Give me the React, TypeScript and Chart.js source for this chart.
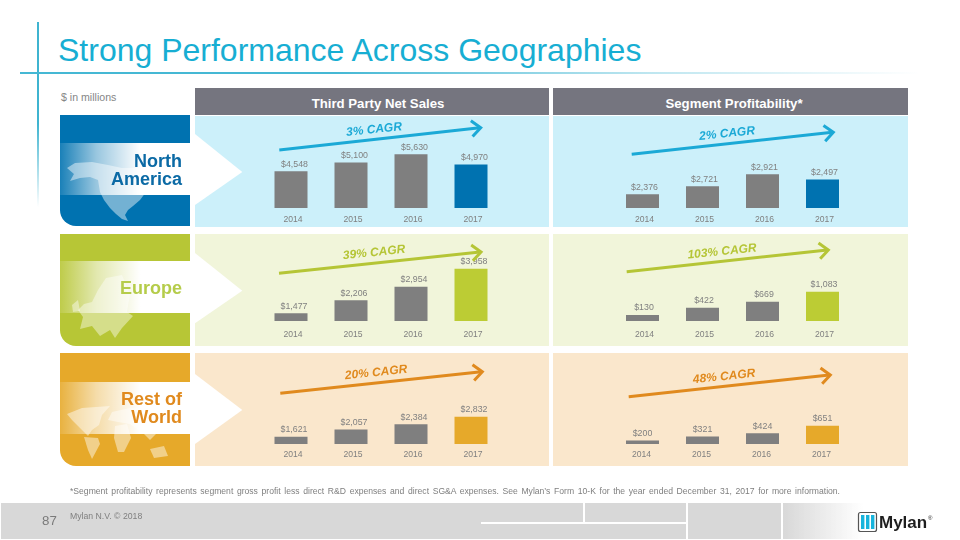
import React, { useEffect, useRef } from "react";
import { Chart, registerables } from "chart.js";

Chart.register(...registerables);

const FONT = '"Liberation Sans", Arial, sans-serif';

const years = ["2014", "2015", "2016", "2017"];
const naSales = [4548, 5100, 5630, 4970];
const naProfit = [2376, 2721, 2921, 2497];
// In the reference the North America profit bars do not follow their printed labels; these are the heights as drawn.
const naProfitDrawn = [2376, 2594, 2921, 2777];
const euSales = [1477, 2206, 2954, 3958];
const euProfit = [130, 422, 669, 1083];
const rowSales = [1621, 2057, 2384, 2832];
const rowProfit = [200, 321, 424, 651];

const BLUE = "#0072b0";
const GREEN = "#bccc34";
const GOLD = "#e6a92a";
const GREY = "#7f7f7f";

const valueLabels = {
  id: "valueLabels",
  afterDatasetsDraw(chart: any) {
    const o = chart.options.plugins.valueLabels;
    const { ctx } = chart;
    const els = chart.getDatasetMeta(0).data;
    ctx.save();
    ctx.font = `8.8px ${FONT}`;
    ctx.fillStyle = "#808080";
    ctx.textAlign = "center";
    ctx.textBaseline = "middle";
    els.forEach((el: any, i: number) => {
      ctx.fillText("$" + o.texts[i].toLocaleString("en-US"), el.x + o.dx, el.y - 7);
    });
    ctx.restore();
  },
};

type Panel = {
  left: number; width: number; top: number; base: number; padL: number; padR: number;
  drawn: number[]; printed: number[]; min: number; max: number; accent: string;
  labelDx: number; tickDx: number; tickGap: number;
};

const SALES = { left: 195, width: 354, padL: 66, padR: 48 };
const PROFIT = { left: 553, width: 355, padL: 59.5, padR: 55.5 };

const panels: Panel[] = [
  { ...SALES, top: 116, base: 207.7, drawn: naSales, printed: naSales, min: 2178, max: 8094, accent: BLUE, labelDx: 3.5, tickDx: 2, tickGap: 6 },
  { ...PROFIT, top: 116, base: 207.7, drawn: naProfitDrawn, printed: naProfit, min: 2003, max: 4502, accent: BLUE, labelDx: 2, tickDx: 2, tickGap: 6 },
  { ...SALES, top: 234, base: 321, drawn: euSales, printed: euSales, min: 1049, max: 5882, accent: GREEN, labelDx: 3, tickDx: 2, tickGap: 8.5 },
  { ...PROFIT, top: 234, base: 321, drawn: euProfit, printed: euProfit, min: -115, max: 3436, accent: GREEN, labelDx: 1.5, tickDx: 2, tickGap: 8.5 },
  { ...SALES, top: 353, base: 444.3, drawn: rowSales, printed: rowSales, min: 1179, max: 6712, accent: GOLD, labelDx: 3, tickDx: 2, tickGap: 5.5 },
  { ...PROFIT, top: 353, base: 444.3, drawn: rowProfit, printed: rowProfit, min: 90, max: 2891, accent: GOLD, labelDx: 0, tickDx: -1, tickGap: 5.5 },
];

function BarPanel({ p }: { p: Panel }) {
  const ref = useRef<HTMLCanvasElement>(null);
  const AXIS_H = 20;
  const h = Math.round(p.base - p.top + AXIS_H);
  useEffect(() => {
    const chart = new Chart(ref.current!, {
      type: "bar",
      data: {
        labels: years,
        datasets: [{
          data: p.drawn,
          base: p.min,
          backgroundColor: [GREY, GREY, GREY, p.accent],
          barPercentage: 0.55,
          categoryPercentage: 1,
        }],
      },
      options: {
        animation: false,
        responsive: false,
        devicePixelRatio: 1,
        layout: { padding: { left: p.padL, right: p.padR, top: 0, bottom: 0 } },
        plugins: {
          legend: { display: false },
          title: { display: false },
          tooltip: { enabled: false },
          valueLabels: { texts: p.printed, dx: p.labelDx },
        },
        scales: {
          x: {
            grid: { display: false, drawTicks: false, tickLength: 0 },
            border: { display: false },
            ticks: { color: "#808080", font: { family: FONT, size: 8.6 }, padding: p.tickGap, labelOffset: p.tickDx, maxRotation: 0 },
            afterFit: (s: any) => { s.height = AXIS_H; },
          },
          y: { display: false, min: p.min, max: p.max },
        },
      } as any,
      plugins: [valueLabels as any],
    });
    return () => chart.destroy();
  }, []);
  return (
    <canvas ref={ref} width={p.width} height={h}
      style={{ position: "absolute", left: p.left, top: p.top, width: p.width, height: h }} />
  );
}

const Box = (s: React.CSSProperties) => <div style={{ position: "absolute", ...s }} />;

function T({ x, y, text, size, color, bold, italic, align = "left", rotate = 0 }: any) {
  const tx = align === "center" ? "-50%" : align === "right" ? "-100%" : "0";
  return (
    <div style={{
      position: "absolute", left: x, top: y, whiteSpace: "nowrap", fontFamily: FONT, fontSize: size, color,
      fontWeight: bold ? 700 : 400, fontStyle: italic ? "italic" : "normal", lineHeight: 1,
      transform: `translate(${tx},-50%) rotate(${rotate}deg)`,
    }}>{text}</div>
  );
}

function Arrow({ x1, y1, x2, y2, color }: any) {
  const a = Math.atan2(y2 - y1, x2 - x1);
  const len = 12;
  const spread = 0.72;
  const p1 = [x2 - len * Math.cos(a - spread), y2 - len * Math.sin(a - spread)];
  const p2 = [x2 - len * Math.cos(a + spread), y2 - len * Math.sin(a + spread)];
  return (
    <g stroke={color} strokeWidth={3} fill="none">
      <line x1={x1} y1={y1} x2={x2 - 1} y2={y2} />
      <polyline points={`${p1[0]},${p1[1]} ${x2},${y2} ${p2[0]},${p2[1]}`} />
    </g>
  );
}

const CB = "#1ba9d6";
const CG = "#b5c536";
const CO = "#e08a1e";

const arrows = [
  { x1: 279.3, y1: 150, x2: 480.7, y2: 127.7, color: CB },
  { x1: 631.7, y1: 154.3, x2: 833.3, y2: 132.3, color: CB },
  { x1: 279, y1: 273.3, x2: 481, y2: 252, color: CG },
  { x1: 626.7, y1: 271.7, x2: 828.3, y2: 250, color: CG },
  { x1: 280.3, y1: 393.3, x2: 482.3, y2: 371.7, color: CO },
  { x1: 628.7, y1: 396.7, x2: 830.3, y2: 375, color: CO },
];

const cagr = [
  { text: "3% CAGR", x: 374.3, y: 129.3, color: CB },
  { text: "2% CAGR", x: 726.7, y: 133.3, color: CB },
  { text: "39% CAGR", x: 374, y: 251.7, color: CG },
  { text: "103% CAGR", x: 722.3, y: 250.7, color: CG },
  { text: "20% CAGR", x: 375.7, y: 372.3, color: CO },
  { text: "48% CAGR", x: 723.7, y: 376, color: CO },
];

const tiles = [
  { top: 115.3, h: 111, bandT: 143, bandB: 195, color: BLUE, panel: "#ccf0fa", ptop: 115.5, ph: 111.5, a: [134, 172, 205] },
  { top: 233.5, h: 112, bandT: 261, bandB: 313, color: "#b7c636", panel: "#f1f5da", ptop: 234, ph: 111.5, a: [253, 290.7, 323.3] },
  { top: 353, h: 112.5, bandT: 382, bandB: 434, color: "#e6a92a", panel: "#fae7cc", ptop: 353, ph: 113, a: [374, 410, 444] },
];

const mapNA = "67,168 75,163 92,162 108,165 122,168 138,168 150,172 148,178 143,186 146,192 140,200 133,206 128,210 125,215 128,221 122,219 116,214 110,208 104,200 100,192 98,180 90,177 80,178 70,181 74,174";
const mapEU = ["122,275 106,278 98,290 92,302 84,304 78,310 83,317 80,329 92,326 100,336 110,330 115,338 122,328 133,316 127,312 130,294", "72,305 78,300 80,311 73,312"];
const mapRW = [
  "67,414 82,408 110,406 102,415 99,425 92,430 88,436 80,428 72,420",
  "84,437 98,438 100,444 92,459 88,450",
  "115,426 127,424 131,438 124,452 118,452 114,438",
  "108,420 112,412 130,408 150,408 170,416 166,426 158,432 150,440 142,432 130,424 118,422",
  "150,449 164,446 168,456 154,458",
];

export default function App() {
  return (
    <div style={{ position: "fixed", left: 0, top: 0, width: 960, height: 540, background: "#fff", overflow: "hidden", fontFamily: FONT }}>
      <T x={58} y={50} text="Strong Performance Across Geographies" size={32} color="#17aed3" />
      <Box left={37} top={22} width={1.5} height={185} background="linear-gradient(to bottom,#3fb4d0 0%,#3fb4d0 55%,rgba(63,180,208,0) 100%)" />
      <Box left={20} top={72} width={900} height={1.5} background="linear-gradient(to right,#45b8d4 0%,#45b8d4 35%,rgba(69,184,212,0.35) 70%,rgba(69,184,212,0) 100%)" />
      <T x={61} y={97} text="$ in millions" size={10.6} color="#868686" />

      <Box left={195} top={88.3} width={354} height={27} background="#75757f" />
      <Box left={553} top={88.3} width={355} height={27} background="#75757f" />
      <T x={378} y={104} text="Third Party Net Sales" size={13.2} color="#fff" bold align="center" />
      <T x={734} y={104} text="Segment Profitability*" size={13.2} color="#fff" bold align="center" />

      {tiles.map((t, i) => (
        <React.Fragment key={i}>
          <Box left={60} top={t.top} width={129.5} height={t.h} background={t.color} borderBottomLeftRadius={16} />
          <Box left={60} top={t.bandT} width={129.5} height={t.bandB - t.bandT}
            background="linear-gradient(to right,rgba(255,255,255,0.1) 0%,rgba(255,255,255,0.6) 28%,rgba(255,255,255,1) 62%,#fff 100%)" />
          <Box left={195} top={t.ptop} width={354} height={t.ph} background={t.panel} />
          <Box left={553} top={t.ptop} width={355} height={t.ph} background={t.panel} />
        </React.Fragment>
      ))}

      <svg width={960} height={540} style={{ position: "absolute", left: 0, top: 0 }}>
        {tiles.map((t, i) => (
          <polygon key={i} fill="#fff" points={`195,${t.a[0]} 242.3,${t.a[1]} 195,${t.a[2]}`} />
        ))}
        <polygon points={mapNA} fill="rgba(255,255,255,0.45)" />
        {mapEU.map((m, i) => <polygon key={i} points={m} fill="rgba(255,255,255,0.42)" />)}
        {mapRW.map((m, i) => <polygon key={i} points={m} fill="rgba(255,255,255,0.45)" />)}
      </svg>

      {panels.map((p, i) => <BarPanel key={i} p={p} />)}

      <svg width={960} height={540} style={{ position: "absolute", left: 0, top: 0 }}>
        {arrows.map((a, i) => <Arrow key={i} {...a} />)}
      </svg>
      {cagr.map((c, i) => (
        <T key={i} x={c.x} y={c.y} text={c.text} size={12} color={c.color} bold italic align="center" rotate={-6} />
      ))}

      <T x={182} y={161} text="North" size={18} color="#0b6aa5" bold align="right" />
      <T x={182} y={179} text="America" size={18} color="#0b6aa5" bold align="right" />
      <T x={182} y={287.5} text="Europe" size={18} color="#b5cc4a" bold align="right" />
      <T x={182} y={399} text="Rest of" size={18} color={CO} bold align="right" />
      <T x={182} y={417} text="World" size={18} color={CO} bold align="right" />

      <div style={{
        position: "absolute", left: 70, top: 491, width: 770, transform: "translateY(-50%)", fontFamily: FONT, fontSize: 8.6,
        color: "#7f7f7f", lineHeight: 1, textAlign: "justify", textAlignLast: "justify", whiteSpace: "normal",
      }}>*Segment profitability represents segment gross profit less direct R&amp;D expenses and direct SG&amp;A expenses. See Mylan’s Form 10-K for the year ended December 31, 2017 for more information.</div>

      <Box left={1} top={502.7} width={480} height={36.5} background="#d8d8d8" />
      <Box left={481} top={502.7} width={102} height={19.5} background="#d8d8d8" />
      <Box left={585} top={502.7} width={101} height={19.5} background="#d8d8d8" />
      <Box left={481} top={524} width={205} height={15.2} background="#d8d8d8" />
      <Box left={688} top={502.7} width={92.5} height={36.5} background="#d8d8d8" />
      <Box left={783} top={502.7} width={80} height={36.5} background="linear-gradient(to right,#d8d8d8,rgba(255,255,255,0))" />
      <T x={42} y={521} text="87" size={13.3} color="#7a7a7a" />
      <T x={70} y={515.5} text="Mylan N.V. © 2018" size={8.7} color="#808080" />

      <svg width={960} height={540} style={{ position: "absolute", left: 0, top: 0 }}>
        <rect x={858.5} y={512.5} width={18} height={19} rx={2} fill="#fff" stroke="#555" strokeWidth={1.2} />
        <rect x={861} y={515} width={3.4} height={14} fill="#18b4dc" />
        <rect x={866} y={515} width={3.4} height={14} fill="#18b4dc" />
        <rect x={871} y={515} width={3.4} height={14} fill="#18b4dc" />
      </svg>
      <T x={879} y={522} text="Mylan" size={17} color="#1e1e1e" bold />
      <T x={928} y={518} text="®" size={6} color="#1e1e1e" />
    </div>
  );
}
